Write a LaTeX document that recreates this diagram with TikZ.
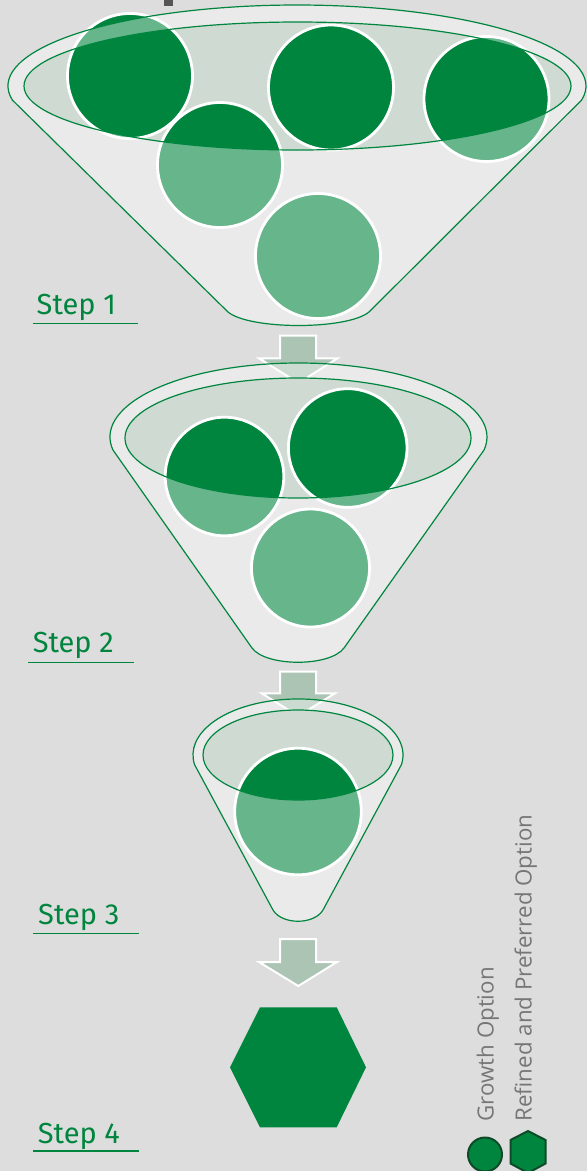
\documentclass[tikz,border=0pt]{standalone}
\usepackage{fontspec}
\newfontfamily\stepfont{Fira Sans}
\newfontfamily\legfont{Open Sans}
\definecolor{bgc}{HTML}{DDDDDD}
\definecolor{darkg}{HTML}{00853F}
\definecolor{openc}{HTML}{CFDAD2}
\definecolor{arrowc}{HTML}{ABC4B3}
\definecolor{legline}{HTML}{0E4A27}
\definecolor{leggray}{HTML}{767676}
\definecolor{markc}{HTML}{555555}
\begin{document}
\begin{tikzpicture}[x=1pt,y=-1pt,
  ball/.style={fill=darkg, draw=white, line width=2.8pt},
  front/.style={fill=white, fill opacity=0.4, even odd rule},
  openfill/.style={fill=openc},
  funneledge/.style={draw=darkg, line width=1.2pt},
  blockarrow/.style={fill=arrowc, draw=white, line width=2pt, line join=miter},
  steplabel/.style={text=darkg, font=\stepfont\fontsize{29}{29}\selectfont, inner sep=0pt, anchor=base west},
  underl/.style={draw=darkg, line width=1.5pt},
  legtext/.style={text=leggray, font=\legfont\fontsize{22.3}{22.3}\selectfont, inner sep=0pt, rotate=90, anchor=base west},
  legshape/.style={fill=darkg, draw=legline, line width=2pt},
  funA/.style={insert path={(12.39,100.07) arc[start angle=170,end angle=370,x radius=289,y radius=81] -- (369,312) .. controls (347,330) and (250,330) .. (228,312) -- cycle}},
  openA/.style={insert path={(297.5,86) ellipse[x radius=273.5,y radius=64]}},
  funB/.style={insert path={(112.86,449.85) arc[start angle=170,end angle=370,x radius=188.5,y radius=74] -- (344,648) .. controls (330,667) and (266,667) .. (252,648) -- cycle}},
  openB/.style={insert path={(298,438) ellipse[x radius=173,y radius=60]}},
  funC/.style={insert path={(194.6,764.7) arc[start angle=170,end angle=370,x radius=105,y radius=56] -- (323,910) .. controls (314,925) and (282,925) .. (273,910) -- cycle}},
  openC/.style={insert path={(298,755) ellipse[x radius=95,y radius=45]}}
]
\useasboundingbox (0,0) rectangle (587,1171);
\fill[bgc] (0,0) rectangle (587,1171);
\fill[markc] (164,0) rectangle (172.5,6);

% ---------- Funnel 1 ----------
\fill[openfill, openA];
\draw[ball] (130,76) circle[radius=62.5];
\draw[ball] (331,87.5) circle[radius=62.5];
\draw[ball] (486.5,99) circle[radius=62.5];
\draw[ball] (220,165) circle[radius=62.5];
\draw[ball] (318,256) circle[radius=62.5];
\fill[front, funA, openA];
\draw[funneledge, funA];
\draw[funneledge, openA];
\node[steplabel] (s1) at (36.5,314.3) {Step 1};
\draw[underl] (32.7,323.3) -- (138.3,323.3);

% ---------- Arrow 1 -> 2 ----------
\draw[blockarrow] (280,335.7) -- (316,335.7) -- (316,358.3) -- (337.5,358.3) -- (298.5,383) -- (259,358.3) -- (280,358.3) -- cycle;

% ---------- Funnel 2 ----------
\fill[openfill, openB];
\draw[ball] (224.5,476.5) circle[radius=59.3];
\draw[ball] (347.7,448) circle[radius=59.3];
\draw[ball] (310.5,568) circle[radius=59];
\fill[front, funB, openB];
\draw[funneledge, funB];
\draw[funneledge, openB];
\node[steplabel] (s2) at (32.6,652.7) {Step 2};
\draw[underl] (28,662.7) -- (134,662.7);

% ---------- Arrow 2 -> 3 ----------
\draw[blockarrow] (280,671.7) -- (316,671.7) -- (316,693.3) -- (335,693.3) -- (298.3,716) -- (261.7,693.3) -- (280,693.3) -- cycle;

% ---------- Funnel 3 ----------
\fill[openfill, openC];
\draw[ball] (298,811.5) circle[radius=63.3];
\fill[front, funC, openC];
\draw[funneledge, funC];
\draw[funneledge, openC];
\node[steplabel] (s3) at (38,924.5) {Step 3};
\draw[underl] (33,933.3) -- (139,933.3);

% ---------- Arrow 3 -> 4 ----------
\draw[blockarrow] (280,939) -- (316,939) -- (316,962) -- (337,962) -- (298.3,986) -- (259,962) -- (280,962) -- cycle;

% ---------- Step 4 ----------
\fill[darkg] (260,1007.3) -- (336.7,1007.3) -- (366,1067.3) -- (336.7,1127.3) -- (260,1127.3) -- (230,1067.3) -- cycle;
\node[steplabel] (s4) at (37.7,1143.3) {Step 4};
\draw[underl] (33.3,1151) -- (139.3,1151);

% ---------- Legend ----------
\draw[legshape] (485,1154.5) circle[radius=17];
\draw[legshape] (528,1131) -- (545.5,1140) -- (545.5,1163.5) -- (528,1173) -- (510.5,1163.5) -- (510.5,1140) -- cycle;
\node[legtext] (lg1) at (493.5,1121.7) {Growth Option};
\node[legtext] (lg2) at (531.5,1121.7) {Refined and Preferred Option};
\end{tikzpicture}
\end{document}
